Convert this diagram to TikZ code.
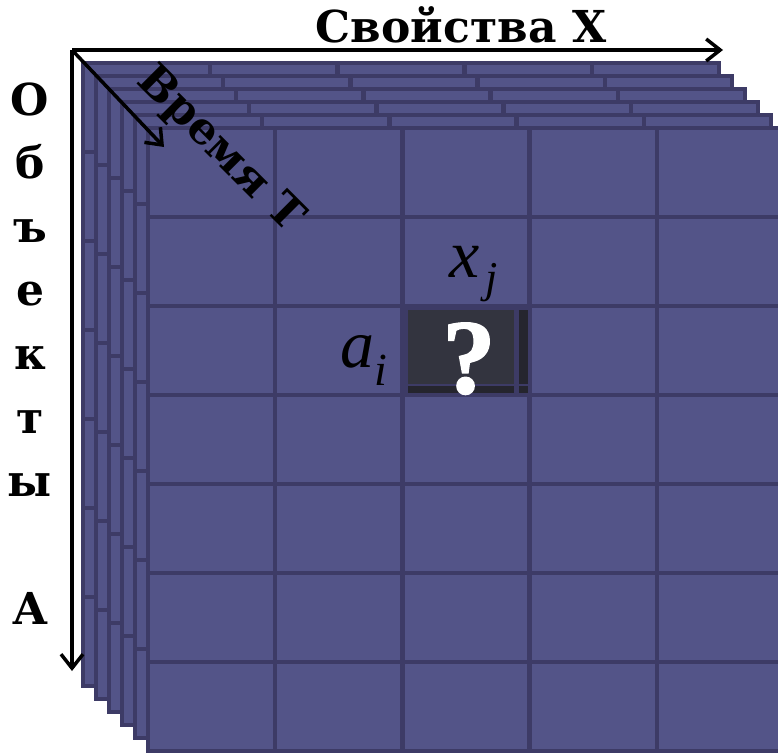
\documentclass[tikz,border=0pt]{standalone}
\usepackage{fontspec}
\setmainfont{Liberation Serif}
\newfontfamily\lblfont{DejaVu Serif}
\newfontfamily\qfont[FakeBold=1.5]{Liberation Serif}
\usetikzlibrary{arrows.meta}

\definecolor{cellfill}{RGB}{83,84,136}
\definecolor{gridline}{RGB}{61,59,102}
\definecolor{darkcell}{RGB}{51,52,63}
\definecolor{darkstrip}{RGB}{37,37,46}

\begin{document}
\begin{tikzpicture}[x=1pt,y=-1pt,
  gridl/.style={draw=gridline, line width=4.3pt},
  axis/.style={line width=3.5pt, line cap=butt, -{Straight Barb[length=14pt,width=22pt,line width=3.5pt]}},
  lbl/.style={font=\lblfont\bfseries\fontsize{44}{44}\selectfont, inner sep=0pt},
  qlbl/.style={font=\qfont\bfseries\fontsize{106}{106}\selectfont, text=white, inner sep=0pt},
  mathlbl/.style={font=\itshape\fontsize{68}{68}\selectfont, inner sep=0pt}]
\useasboundingbox (0,0) rectangle (778,752);
\begin{scope}
  \clip (0,0) rectangle (778,752);
  \foreach \k in {0,...,5} {
    \begin{scope}[shift={(83+13*\k,63+13*\k)}]
      \fill[cellfill] (0,0) rectangle (636,623);
      \foreach \c in {1,...,4} \draw[gridl] (\c*127.2,0) -- (\c*127.2,623);
      \foreach \r in {1,...,6} \draw[gridl] (0,\r*89) -- (636,\r*89);
      \draw[gridl] (0,0) rectangle (636,623);
    \end{scope}
  }
  % highlighted cell
  \fill[gridline] (404.4,308) rectangle (527.6,393);
  \fill[darkcell] (408,310) rectangle (514,384);
  \fill[darkstrip] (519,310) rectangle (527.6,384);
  \fill[darkstrip] (408,386) rectangle (514,393);
  \fill[darkstrip] (519,386) rectangle (527.6,393);
\end{scope}

% axes
\coordinate (origin) at (72,50);
\coordinate (xend) at (723,50);
\coordinate (aend) at (72,671);
\coordinate (tend) at (164,147);
\draw[axis] (origin) -- (xend);
\draw[axis] (origin) -- (aend);
\draw[axis] (origin) -- (tend);

% labels
\node[lbl, anchor=base] (propx) at (461,43) {Свойства X};
\node[lbl, rotate=-45] (timet) at (220,150) {Время Т};
\foreach \ch [count=\i from 0] in {О,б,ъ,е,к,т,ы}
  \node[lbl, anchor=base] (obj\i) at (30,115+63.6*\i) {\ch};
\node[lbl, anchor=base] (objA) at (30,624) {А};

\node[mathlbl, anchor=base west] (ai) at (340,367) {a\raisebox{-18pt}{\fontsize{46}{46}\selectfont i}};
\node[mathlbl, anchor=base west] (xj) at (449,277) {x\raisebox{-15pt}{\fontsize{44}{44}\selectfont\hspace{6pt}j}};
\node[qlbl, anchor=base] (qmark) at (469,393) {?};
\end{tikzpicture}
\end{document}
